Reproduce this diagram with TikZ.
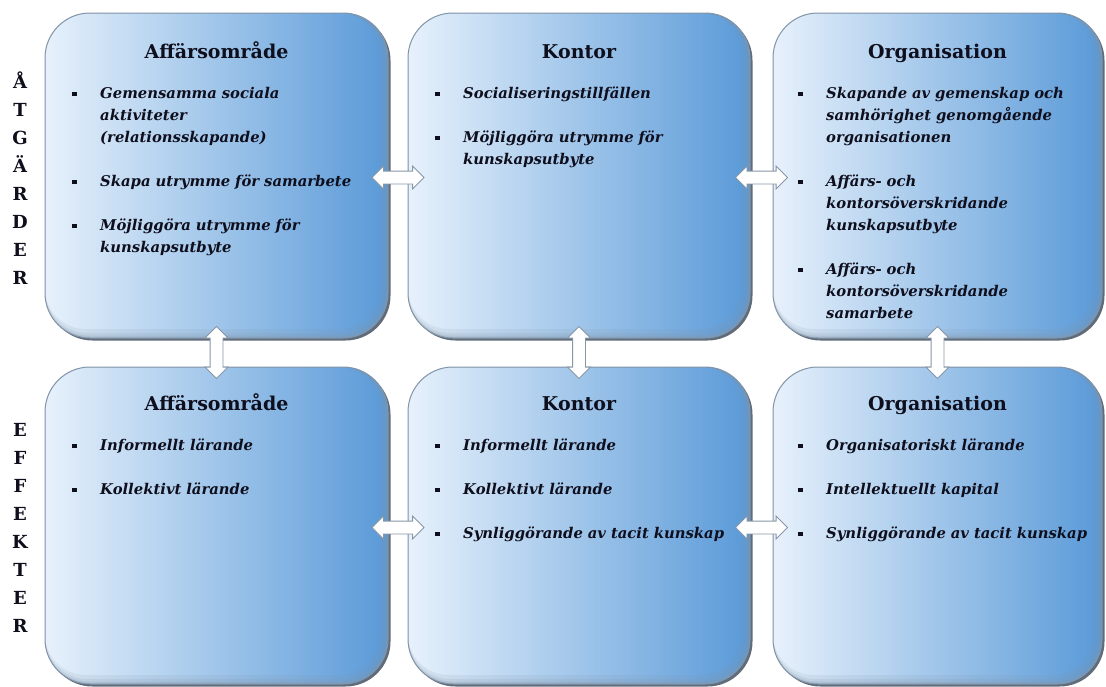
\documentclass[tikz,border=0pt]{standalone}
\usepackage{fontspec}
\setmainfont{DejaVu Serif}
\usetikzlibrary{shapes.arrows,shadows,calc}

\definecolor{boxL}{HTML}{E8F2FC}
\definecolor{boxR}{HTML}{5A9AD8}
\definecolor{boxEdge}{HTML}{8194A8}
\definecolor{ink}{HTML}{0E0E1C}
\definecolor{arrowEdge}{HTML}{8797A8}
\definecolor{shade}{HTML}{1E2F44}

% square bullet with a hanging indent for the item text
\newcommand\sqbullet{\rule[2.5pt]{4.8pt}{4.8pt}}
\newcommand\bitem[1]{\par\noindent\hangindent=28pt\hangafter=1%
  \makebox[28pt][l]{\sqbullet}\strut#1\par}
\newcommand\itemgap{\par\vspace{22pt}}

\tikzset{
  panel/.style={rectangle, rounded corners=45pt, left color=boxL, right color=boxR,
    draw=boxEdge, line width=1pt, inner sep=0,
    drop shadow={shadow xshift=2.5pt, shadow yshift=-2.5pt, fill=shade, opacity=.7},
    path picture={
      % darker bevel along the right and lower edges
      \foreach \w in {9,5,2.5}
        \draw[shade, opacity=.2, line width=\w pt, rounded corners=45pt]
          ($(path picture bounding box.north west)+(-\w/2,-\w/2)$) rectangle
          ($(path picture bounding box.south east)+(-\w/2,-\w/2)$);
    }},
  heading/.style={font=\fontsize{19}{22}\selectfont\bfseries, text=ink,
    anchor=base, inner sep=0},
  body/.style={font=\fontsize{14.8}{22}\selectfont\bfseries\itshape, text=ink,
    anchor=north west, inner sep=0, text width=300pt, align=left},
  sidelabel/.style={font=\fontsize{18}{28}\selectfont\bfseries, text=ink,
    anchor=north, inner sep=0, align=center},
  dblarrow/.style={double arrow, draw=arrowEdge, fill=white, line width=0.8pt,
    minimum height=52pt, double arrow head extend=5pt,
    inner xsep=0pt, inner ysep=6pt}
}

\begin{document}
\begin{tikzpicture}[x=1pt, y=-1pt]
  \fill[white] (0,0) rectangle (1106,686);
  \useasboundingbox (0,0) rectangle (1106,686);

  % panels: top row = measures, bottom row = effects
  \node[panel, minimum width=343pt, minimum height=325pt] (t1) at (216.5,175.5) {};
  \node[panel, minimum width=342pt, minimum height=325pt] (t2) at (579,175.5) {};
  \node[panel, minimum width=329pt, minimum height=325pt] (t3) at (937.5,175.5) {};
  \node[panel, minimum width=343pt, minimum height=317pt] (b1) at (216.5,525.5) {};
  \node[panel, minimum width=342pt, minimum height=317pt] (b2) at (579,525.5) {};
  \node[panel, minimum width=329pt, minimum height=317pt] (b3) at (937.5,525.5) {};

  % headings
  \node[heading] (h1) at (216.5,58) {Affärsområde};
  \node[heading] (h2) at (579,58) {Kontor};
  \node[heading] (h3) at (937.5,58) {Organisation};
  \node[heading] (h4) at (216.5,410) {Affärsområde};
  \node[heading] (h5) at (579,410) {Kontor};
  \node[heading] (h6) at (937.5,410) {Organisation};

  % item lists
  \node[body] (l1) at (72,76.6) {%
    \bitem{Gemensamma sociala\newline aktiviteter\newline (relationsskapande)}\itemgap
    \bitem{Skapa utrymme för samarbete}\itemgap
    \bitem{Möjliggöra utrymme för\newline kunskapsutbyte}};
  \node[body] (l2) at (435,76.6) {%
    \bitem{Socialiseringstillfällen}\itemgap
    \bitem{Möjliggöra utrymme för\newline kunskapsutbyte}};
  \node[body] (l3) at (798,76.6) {%
    \bitem{Skapande av gemenskap och\newline samhörighet genomgående\newline organisationen}\itemgap
    \bitem{Affärs- och\newline kontorsöverskridande\newline kunskapsutbyte}\itemgap
    \bitem{Affärs- och\newline kontorsöverskridande\newline samarbete}};
  \node[body] (l4) at (72,428.6) {%
    \bitem{Informellt lärande}\itemgap
    \bitem{Kollektivt lärande}};
  \node[body] (l5) at (435,428.6) {%
    \bitem{Informellt lärande}\itemgap
    \bitem{Kollektivt lärande}\itemgap
    \bitem{Synliggörande av tacit kunskap}};
  \node[body] (l6) at (798,428.6) {%
    \bitem{Organisatoriskt lärande}\itemgap
    \bitem{Intellektuellt kapital}\itemgap
    \bitem{Synliggörande av tacit kunskap}};

  % row labels
  \node[sidelabel] (s1) at (20,68.4) {\strut Å\\T\\G\\Ä\\R\\D\\E\\R};
  \node[sidelabel] (s2) at (20,416.4) {\strut E\\F\\F\\E\\K\\T\\E\\R};

  % two-way block arrows between the panels
  \node[dblarrow] (a1) at ($(t1.east)!.5!(t2.west)+(0,2)$) {};
  \node[dblarrow] (a2) at ($(t2.east)!.5!(t3.west)+(0,2)$) {};
  \node[dblarrow] (a3) at ($(b1.east)!.5!(b2.west)+(0,2)$) {};
  \node[dblarrow] (a4) at ($(b2.east)!.5!(b3.west)+(0,2)$) {};
  \node[dblarrow, rotate=90] (a5) at ($(t1.south)!.5!(b1.north)$) {};
  \node[dblarrow, rotate=90] (a6) at ($(t2.south)!.5!(b2.north)$) {};
  \node[dblarrow, rotate=90] (a7) at ($(t3.south)!.5!(b3.north)$) {};
\end{tikzpicture}
\end{document}
